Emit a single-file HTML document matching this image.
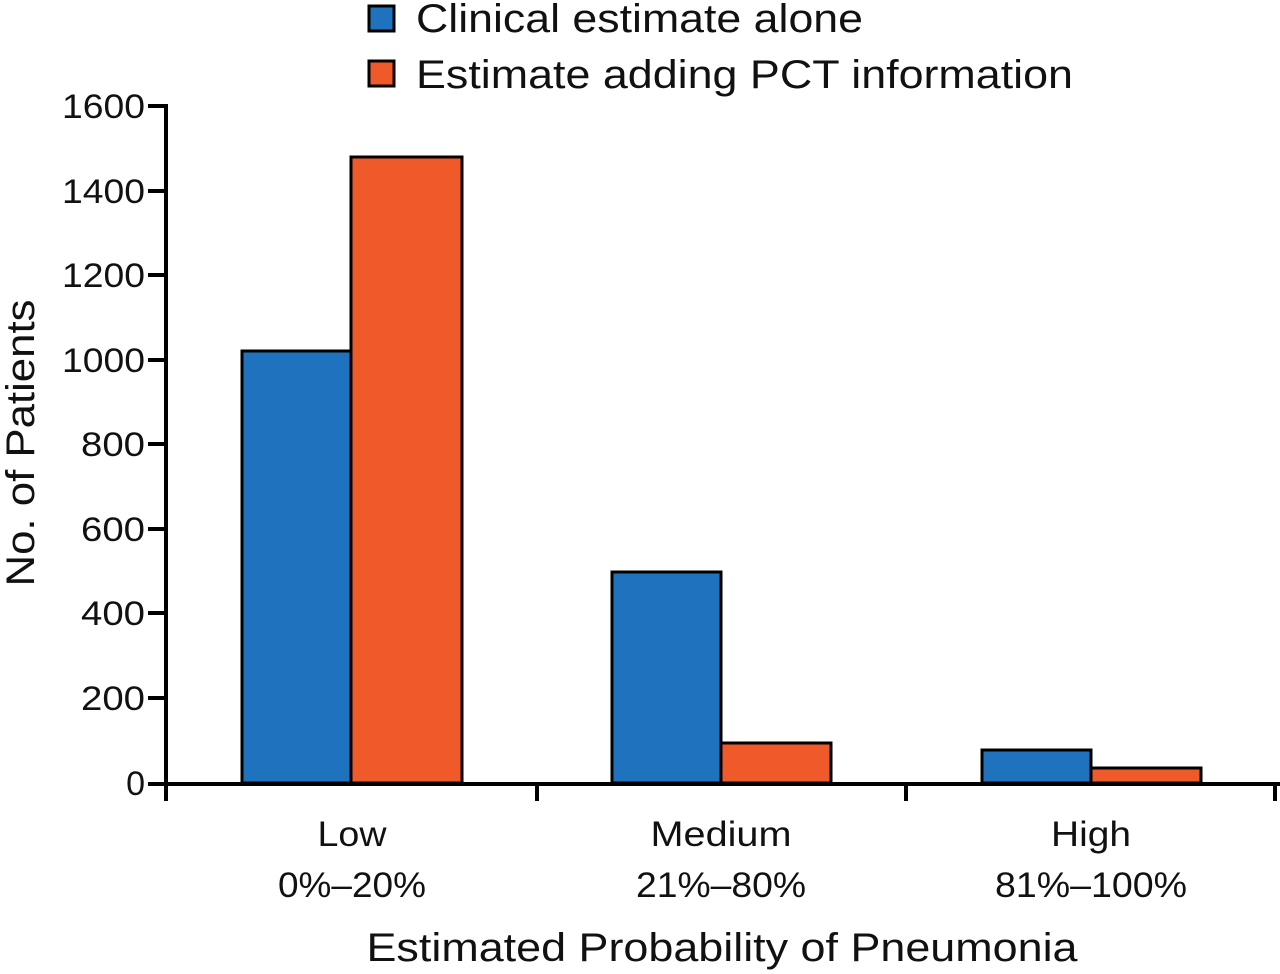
<!DOCTYPE html>
<html><head><style>
html,body{margin:0;padding:0;background:#fff;}
svg{display:block;}
text{font-family:"Liberation Sans",Arial,sans-serif;fill:#111;}
</style></head><body>
<svg width="1280" height="974" viewBox="0 0 1280 974" xmlns="http://www.w3.org/2000/svg">
<!-- legend -->
<rect x="369" y="6" width="25" height="25" fill="#1f72bd" stroke="#000" stroke-width="3"/>
<text x="416" y="32" font-size="40" textLength="447" lengthAdjust="spacingAndGlyphs">Clinical estimate alone</text>
<rect x="369" y="61" width="25" height="25" fill="#f05a2b" stroke="#000" stroke-width="3"/>
<text x="416" y="88" font-size="40" textLength="657" lengthAdjust="spacingAndGlyphs">Estimate adding PCT information</text>
<!-- bars -->
<g stroke="#000" stroke-width="3">
<rect x="242" y="351" width="109" height="432" fill="#1f72bd"/>
<rect x="351" y="157" width="111" height="626" fill="#f05a2b"/>
<rect x="612" y="572" width="109" height="211" fill="#1f72bd"/>
<rect x="721" y="743" width="110" height="40" fill="#f05a2b"/>
<rect x="982" y="750" width="109" height="33" fill="#1f72bd"/>
<rect x="1091" y="768" width="110" height="15" fill="#f05a2b"/>
</g>
<!-- axes -->
<g stroke="#000" stroke-width="4" fill="none">
<line x1="166" y1="104" x2="166" y2="786"/>
<line x1="148" y1="784" x2="1280" y2="784"/>
<line x1="148" y1="106" x2="166" y2="106"/>
<line x1="148" y1="191" x2="166" y2="191"/>
<line x1="148" y1="275" x2="166" y2="275"/>
<line x1="148" y1="360" x2="166" y2="360"/>
<line x1="148" y1="444" x2="166" y2="444"/>
<line x1="148" y1="529" x2="166" y2="529"/>
<line x1="148" y1="613" x2="166" y2="613"/>
<line x1="148" y1="698" x2="166" y2="698"/>
<line x1="166" y1="784" x2="166" y2="801"/>
<line x1="537" y1="784" x2="537" y2="801"/>
<line x1="906" y1="784" x2="906" y2="801"/>
<line x1="1275" y1="784" x2="1275" y2="801"/>
</g>
<g font-size="34" text-anchor="end">
<text x="145" y="118" textLength="83" lengthAdjust="spacingAndGlyphs">1600</text>
<text x="145" y="203" textLength="83" lengthAdjust="spacingAndGlyphs">1400</text>
<text x="145" y="287" textLength="83" lengthAdjust="spacingAndGlyphs">1200</text>
<text x="145" y="372" textLength="83" lengthAdjust="spacingAndGlyphs">1000</text>
<text x="145" y="456" textLength="64" lengthAdjust="spacingAndGlyphs">800</text>
<text x="145" y="541" textLength="64" lengthAdjust="spacingAndGlyphs">600</text>
<text x="145" y="625" textLength="64" lengthAdjust="spacingAndGlyphs">400</text>
<text x="145" y="710" textLength="64" lengthAdjust="spacingAndGlyphs">200</text>
<text x="145" y="795">0</text>
</g>
<text transform="translate(34,443) rotate(-90)" font-size="40" text-anchor="middle" textLength="287" lengthAdjust="spacingAndGlyphs">No. of Patients</text>
<g font-size="35" text-anchor="middle">
<text x="352" y="846" textLength="69" lengthAdjust="spacingAndGlyphs">Low</text>
<text x="352" y="897" textLength="148" lengthAdjust="spacingAndGlyphs">0%–20%</text>
<text x="721" y="846" textLength="141" lengthAdjust="spacingAndGlyphs">Medium</text>
<text x="721" y="897" textLength="170" lengthAdjust="spacingAndGlyphs">21%–80%</text>
<text x="1091" y="846" textLength="80" lengthAdjust="spacingAndGlyphs">High</text>
<text x="1091" y="897" textLength="192" lengthAdjust="spacingAndGlyphs">81%–100%</text>
</g>
<text x="722" y="961" font-size="40" text-anchor="middle" textLength="711" lengthAdjust="spacingAndGlyphs">Estimated Probability of Pneumonia</text>
</svg>
</body></html>
